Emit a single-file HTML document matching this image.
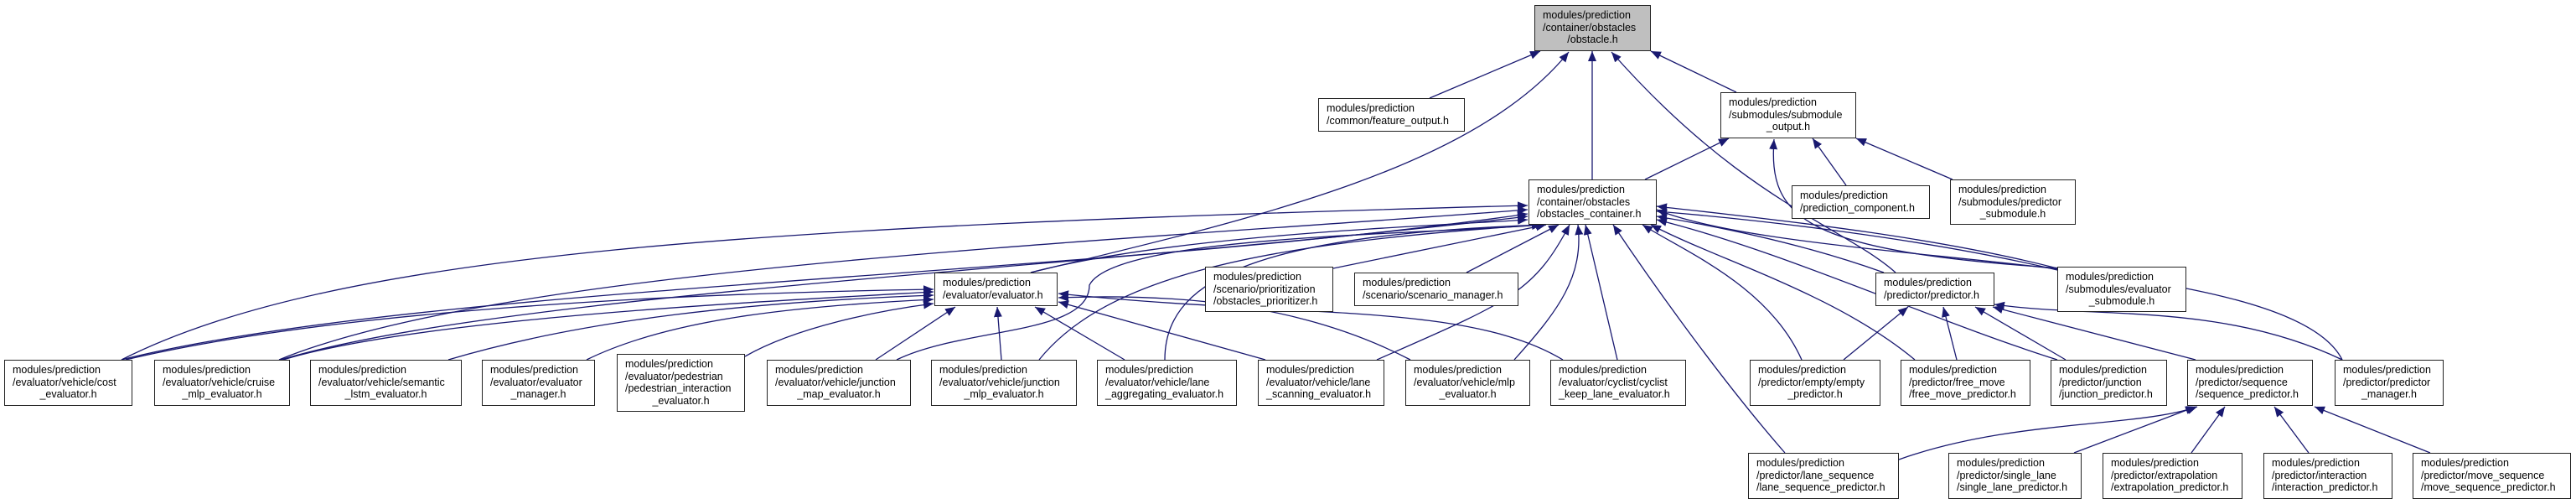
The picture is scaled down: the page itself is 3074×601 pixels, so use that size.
<!DOCTYPE html>
<html><head><meta charset="utf-8"><style>
body{margin:0;width:3074px;height:601px;background:#fff;position:relative;overflow:hidden;font-family:"Liberation Sans",sans-serif}
.b{position:absolute;box-sizing:border-box;border:1.5px solid #222;background:#fff;font-size:12.5px;line-height:14.5px;color:#000;padding:4px 0 0 9px;white-space:nowrap}
.b .c{text-align:center;margin-left:-9px}
svg{position:absolute;left:0;top:0}
</style></head><body>
<svg width="3074" height="601" viewBox="0 0 3074 601">
<defs><marker id="a" markerUnits="userSpaceOnUse" markerWidth="14" markerHeight="12" refX="12" refY="5" orient="auto"><path d="M0,0 L12,5 L0,10 z" fill="#191970"/></marker></defs>
<g fill="none" stroke="#191970" stroke-width="1.3" marker-end="url(#a)">
<path d="M1706,117 L1838,61"/>
<path d="M2072,110 L1970,61"/>
<path d="M1900,214 L1900,61"/>
<path d="M1230,325 C1500,260 1760,200 1872,62"/>
<path d="M2262,325 C2200,270 2080,240 1923,62"/>
<path d="M1963,214 L2063,165"/>
<path d="M2203,221 L2163,165"/>
<path d="M2330,214 L2215,165"/>
<path d="M2462,320 C2150,300 2110,260 2117,166"/>
<path d="M145,429 C400,300 900,270 1823,245"/>
<path d="M333,429 C600,320 1300,290 1823,250"/>
<path d="M145,429 C500,340 1300,330 1823,255"/>
<path d="M335,429 C600,350 1300,320 1823,258"/>
<path d="M1230,325 C1400,280 1700,270 1823,262"/>
<path d="M1070,429 C1150,390 1300,400 1300,340 C1330,280 1700,280 1840,268"/>
<path d="M1240,429 C1320,330 1500,290 1840,268"/>
<path d="M1390,429 C1390,340 1480,280 1845,268"/>
<path d="M1591,320 L1845,268"/>
<path d="M1750,325 L1860,268"/>
<path d="M1643,429 C1800,360 1830,350 1873,268"/>
<path d="M1807,429 C1860,370 1890,330 1883,268"/>
<path d="M1930,429 L1892,268"/>
<path d="M2130,540 C2060,460 1980,350 1925,268"/>
<path d="M2150,429 C2110,340 2010,300 1960,268"/>
<path d="M2285,429 C2190,350 2050,310 1970,268"/>
<path d="M2455,429 C2300,380 2130,300 1977,262"/>
<path d="M2248,325 C2150,290 2050,270 1977,258"/>
<path d="M2795,429 C2730,300 2150,320 1977,250"/>
<path d="M2455,320 C2300,280 2100,260 1977,246"/>
<path d="M2455,322 C2300,285 2100,262 1977,252"/>
<path d="M150,429 C400,370 800,350 1114,345"/>
<path d="M338,429 C500,380 900,360 1114,348"/>
<path d="M535,429 C700,380 900,360 1114,352"/>
<path d="M700,429 C800,380 950,365 1114,357"/>
<path d="M889,425 C950,390 1050,370 1114,362"/>
<path d="M1045,429 L1140,366"/>
<path d="M1195,429 L1190,366"/>
<path d="M1342,429 L1235,366"/>
<path d="M1510,429 L1263,360"/>
<path d="M1683,429 C1550,360 1400,350 1263,355"/>
<path d="M1865,429 C1750,360 1550,380 1263,350"/>
<path d="M2200,429 L2277,366"/>
<path d="M2335,429 L2319,366"/>
<path d="M2465,429 L2357,366"/>
<path d="M2620,429 L2378,366"/>
<path d="M2795,429 C2650,360 2500,380 2380,363"/>
<path d="M2266,548 C2400,500 2550,510 2622,485"/>
<path d="M2475,540 L2620,485"/>
<path d="M2615,540 L2655,485"/>
<path d="M2755,540 L2714,485"/>
<path d="M2900,540 L2762,485"/>
</g>
</svg>
<div class="b" style="left:1831px;top:6px;width:139px;height:55px;background:#bfbfbf">modules/prediction<br>/container/obstacles<div class="c">/obstacle.h</div></div>
<div class="b" style="left:1573px;top:117px;width:175px;height:40px">modules/prediction<br>/common/feature_output.h</div>
<div class="b" style="left:2053px;top:110px;width:162px;height:55px">modules/prediction<br>/submodules/submodule<div class="c">_output.h</div></div>
<div class="b" style="left:1824px;top:214px;width:153px;height:54px">modules/prediction<br>/container/obstacles<br>/obstacles_container.h</div>
<div class="b" style="left:2138px;top:221px;width:165px;height:40px">modules/prediction<br>/prediction_component.h</div>
<div class="b" style="left:2327px;top:214px;width:150px;height:54px">modules/prediction<br>/submodules/predictor<div class="c">_submodule.h</div></div>
<div class="b" style="left:1115px;top:325px;width:147px;height:40px">modules/prediction<br>/evaluator/evaluator.h</div>
<div class="b" style="left:1438px;top:318px;width:153px;height:54px">modules/prediction<br>/scenario/prioritization<br>/obstacles_prioritizer.h</div>
<div class="b" style="left:1616px;top:325px;width:196px;height:40px">modules/prediction<br>/scenario/scenario_manager.h</div>
<div class="b" style="left:2238px;top:325px;width:142px;height:40px">modules/prediction<br>/predictor/predictor.h</div>
<div class="b" style="left:2455px;top:318px;width:154px;height:54px">modules/prediction<br>/submodules/evaluator<div class="c">_submodule.h</div></div>
<div class="b" style="left:5px;top:429px;width:153px;height:55px">modules/prediction<br>/evaluator/vehicle/cost<div class="c">_evaluator.h</div></div>
<div class="b" style="left:184px;top:429px;width:162px;height:55px">modules/prediction<br>/evaluator/vehicle/cruise<div class="c">_mlp_evaluator.h</div></div>
<div class="b" style="left:370px;top:429px;width:181px;height:55px">modules/prediction<br>/evaluator/vehicle/semantic<div class="c">_lstm_evaluator.h</div></div>
<div class="b" style="left:575px;top:429px;width:135px;height:55px">modules/prediction<br>/evaluator/evaluator<div class="c">_manager.h</div></div>
<div class="b" style="left:736px;top:422px;width:153px;height:69px">modules/prediction<br>/evaluator/pedestrian<br>/pedestrian_interaction<div class="c">_evaluator.h</div></div>
<div class="b" style="left:915px;top:429px;width:172px;height:55px">modules/prediction<br>/evaluator/vehicle/junction<div class="c">_map_evaluator.h</div></div>
<div class="b" style="left:1111px;top:429px;width:174px;height:55px">modules/prediction<br>/evaluator/vehicle/junction<div class="c">_mlp_evaluator.h</div></div>
<div class="b" style="left:1309px;top:429px;width:167px;height:55px">modules/prediction<br>/evaluator/vehicle/lane<br>_aggregating_evaluator.h</div>
<div class="b" style="left:1501px;top:429px;width:151px;height:55px">modules/prediction<br>/evaluator/vehicle/lane<br>_scanning_evaluator.h</div>
<div class="b" style="left:1677px;top:429px;width:149px;height:55px">modules/prediction<br>/evaluator/vehicle/mlp<div class="c">_evaluator.h</div></div>
<div class="b" style="left:1850px;top:429px;width:162px;height:55px">modules/prediction<br>/evaluator/cyclist/cyclist<br>_keep_lane_evaluator.h</div>
<div class="b" style="left:2088px;top:429px;width:156px;height:55px">modules/prediction<br>/predictor/empty/empty<div class="c">_predictor.h</div></div>
<div class="b" style="left:2268px;top:429px;width:155px;height:55px">modules/prediction<br>/predictor/free_move<br>/free_move_predictor.h</div>
<div class="b" style="left:2447px;top:429px;width:139px;height:55px">modules/prediction<br>/predictor/junction<br>/junction_predictor.h</div>
<div class="b" style="left:2610px;top:429px;width:150px;height:55px">modules/prediction<br>/predictor/sequence<br>/sequence_predictor.h</div>
<div class="b" style="left:2786px;top:429px;width:130px;height:55px">modules/prediction<br>/predictor/predictor<div class="c">_manager.h</div></div>
<div class="b" style="left:2086px;top:540px;width:180px;height:55px">modules/prediction<br>/predictor/lane_sequence<br>/lane_sequence_predictor.h</div>
<div class="b" style="left:2325px;top:540px;width:159px;height:55px">modules/prediction<br>/predictor/single_lane<br>/single_lane_predictor.h</div>
<div class="b" style="left:2509px;top:540px;width:167px;height:55px">modules/prediction<br>/predictor/extrapolation<br>/extrapolation_predictor.h</div>
<div class="b" style="left:2701px;top:540px;width:154px;height:55px">modules/prediction<br>/predictor/interaction<br>/interaction_predictor.h</div>
<div class="b" style="left:2879px;top:540px;width:189px;height:55px">modules/prediction<br>/predictor/move_sequence<br>/move_sequence_predictor.h</div>
</body></html>
